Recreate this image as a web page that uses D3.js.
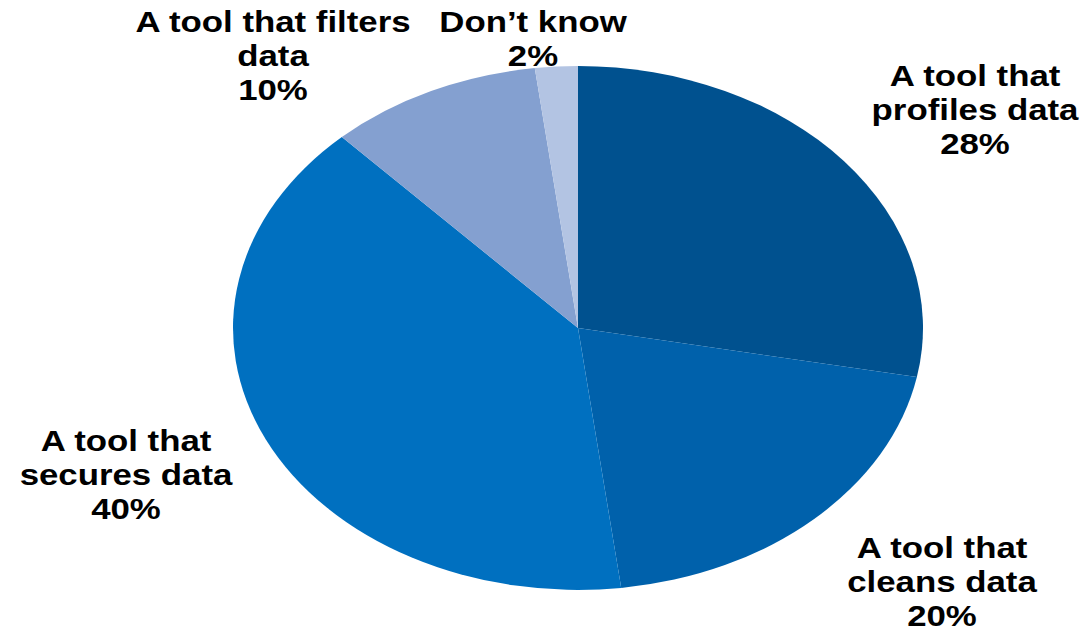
<!DOCTYPE html>
<html>
<head>
<meta charset="utf-8">
<script src="https://cdn.jsdelivr.net/npm/d3@7"></script>
<style>
  body { margin: 0; background: #fff; }
  .label { font-family: "Liberation Sans", Arial, sans-serif; font-weight: bold; font-size: 29px; fill: #000; }
</style>
</head>
<body>
<div id="chart"></div>
<script>
var width = 1082, height = 632;

// data
var categories = ["A tool that profiles data", "A tool that cleans data", "A tool that secures data", "A tool that filters data", "Don\u2019t know"];
var values = [28, 20, 40, 10, 2];
var colors = ["#00518f", "#0061ab", "#0070c0", "#84a0d0", "#b3c4e3"];
// label lines as printed on the chart
var labelLines = [
    ["A tool that", "profiles data", "28%"],
    ["A tool that", "cleans data", "20%"],
    ["A tool that", "secures data", "40%"],
    ["A tool that filters", "data", "10%"],
    ["Don\u2019t know", "2%"]
];

var cx = 578, cy = 328, rx = 345, ry = 262;

const svg = d3.select("#chart")
    .append("svg")
    .attr("width", width)
    .attr("height", height);

var pie = d3.pie().sort(null).value(function(d) { return d; });
var arcs = pie(values);

var arc = d3.arc().innerRadius(0).outerRadius(rx);

// the pie is drawn as a circle and squashed into an ellipse
svg.append("g")
    .attr("transform", `translate(${cx},${cy}) scale(1,${ry / rx})`)
    .selectAll("path")
    .data(arcs)
    .join("path")
    .attr("d", arc)
    .attr("fill", function(d, i) { return colors[i]; });

// label centres (first baseline); the original text is a bit stretched sideways
var labelPos = [
    {x: 975, y: 86},
    {x: 942, y: 558},
    {x: 126, y: 451},
    {x: 273, y: 32},
    {x: 533, y: 32}
];
var lineGap = 34;
var stretch = 1.2;

var labels = svg.selectAll(".labelg")
    .data(labelLines)
    .join("g")
    .attr("class", "labelg")
    .attr("transform", function(d, i) { return `translate(${labelPos[i].x},${labelPos[i].y}) scale(${stretch},1)`; })
    .append("text")
    .attr("class", "label")
    .attr("text-anchor", "middle");

labels.selectAll("tspan")
    .data(function(d) { return d; })
    .join("tspan")
    .attr("x", 0)
    .attr("dy", function(d, j) { return j == 0 ? 0 : lineGap; })
    .text(function(d) { return d; });
</script>
</body>
</html>
